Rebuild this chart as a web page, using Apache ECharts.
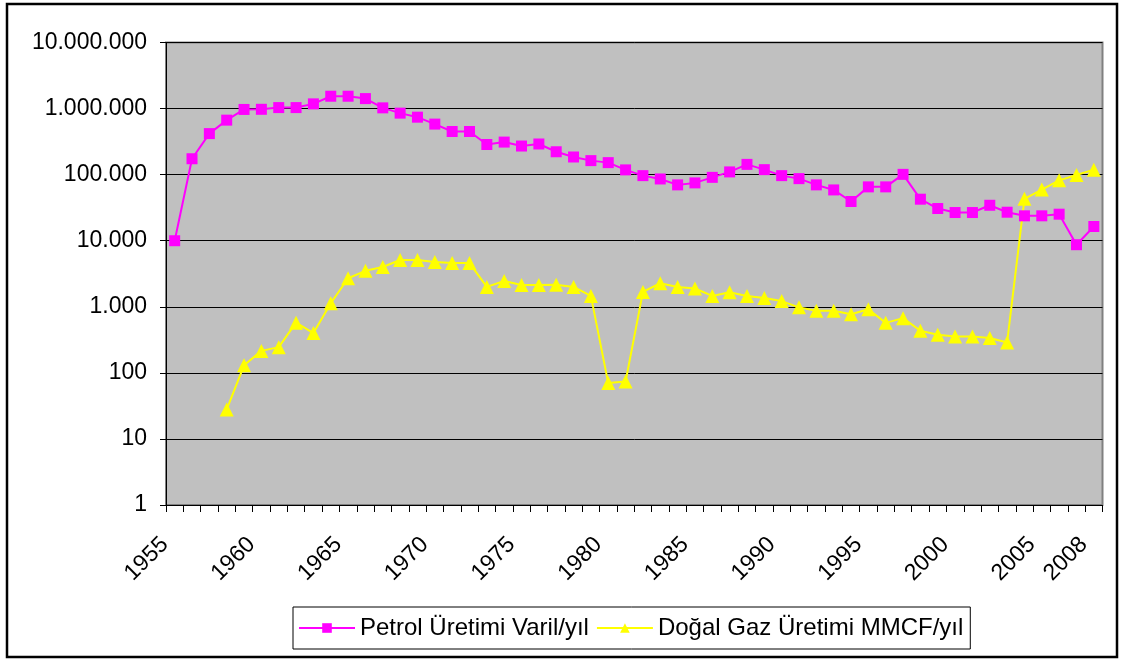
<!DOCTYPE html>
<html>
<head>
<meta charset="utf-8">
<script src="https://cdn.jsdelivr.net/npm/echarts@6/dist/echarts.min.js"></script>
<style>
html,body{margin:0;padding:0;background:#fff;}
#chart{width:1121px;height:659px;}
</style>
</head>
<body>
<div id="chart"></div>
<script>
var years = [];
for (var y = 1955; y <= 2008; y++) years.push(String(y));

var shownYearLabels = ['1955','1960','1965','1970','1975','1980','1985','1990','1995','2000','2005','2008'];

var petrolSeriesName = 'Petrol Üretimi Varil/yıl';
var gasSeriesName = 'Doğal Gaz Üretimi MMCF/yıl';

var petrol = [
  10000, 174000, 418000, 668000, 970000, 975000, 1035000, 1035000, 1178000, 1538000,
  1538000, 1416000, 1025000, 853000, 741000, 582000, 450000, 450000, 286000, 311000,
  271000, 291000, 222000, 185000, 163000, 152000, 118000, 96600, 86000, 70000,
  75000, 91000, 110000, 143000, 119000, 96600, 87000, 70000, 58700, 39200,
  65300, 65300, 101000, 42500, 30700, 26700, 26700, 34400, 27000, 23800,
  23800, 25200, 8700, 16400
];

var gas = [
  null, null, null, 28, 130, 215, 245, 575, 400, 1130,
  2700, 3500, 4000, 5100, 5100, 4750, 4590, 4590, 2000, 2450,
  2140, 2140, 2150, 2000, 1460, 70, 74, 1680, 2270, 2000,
  1890, 1460, 1660, 1460, 1360, 1220, 980, 870, 870, 773,
  920, 571, 673, 434, 377, 356, 356, 336, 289, 43000,
  59400, 82000, 99000, 119000
];

var yTickFormat = function (v) {
  return String(Math.round(v)).replace(/\B(?=(\d{3})+(?!\d))/g, '.');
};

var chart = echarts.init(document.getElementById('chart'), null, {renderer: 'canvas'});
var fontFamily = 'Arial, "Liberation Sans", sans-serif';

chart.setOption({
  animation: false,
  backgroundColor: '#ffffff',
  graphic: [{
    type: 'rect',
    shape: {x: 7, y: 4, width: 1110, height: 653},
    style: {fill: 'none', stroke: '#000', lineWidth: 2.5},
    z: 100
  }],
  grid: {
    left: 166, right: 18.5, top: 42.5, bottom: 154,
    show: true,
    backgroundColor: '#c0c0c0',
    borderColor: '#808080',
    borderWidth: 2
  },
  legend: {
    left: 293,
    top: 607,
    padding: [9, 7, 9, 5],
    borderColor: '#000',
    borderWidth: 1,
    backgroundColor: '#fff',
    itemWidth: 56,
    itemHeight: 12,
    itemGap: 7,
    textStyle: {fontFamily: fontFamily, fontSize: 24, color: '#000'},
    data: [petrolSeriesName, gasSeriesName]
  },
  xAxis: {
    type: 'category',
    data: years,
    boundaryGap: true,
    axisLine: {lineStyle: {color: '#000', width: 1}},
    axisTick: {show: true, interval: 0, length: 7, lineStyle: {color: '#000'}},
    axisLabel: {
      interval: function (i, v) { return shownYearLabels.indexOf(v) >= 0; },
      rotate: 45,
      margin: 26,
      padding: [0, 14, 0, 0],
      color: '#000',
      fontFamily: fontFamily,
      fontSize: 23
    },
    splitLine: {show: false}
  },
  yAxis: {
    type: 'log',
    logBase: 10,
    min: 1,
    max: 10000000,
    axisLine: {show: true, lineStyle: {color: '#000', width: 1}},
    axisTick: {show: true, inside: false, length: 6, lineStyle: {color: '#000'}},
    axisLabel: {
      formatter: yTickFormat,
      margin: 19,
      color: '#000',
      fontFamily: fontFamily,
      fontSize: 23
    },
    splitLine: {show: true, lineStyle: {color: '#000', width: 1}},
    minorTick: {show: false}
  },
  series: [
    {
      name: petrolSeriesName,
      type: 'line',
      data: petrol,
      symbol: 'rect',
      symbolSize: 11,
      showAllSymbol: true,
      lineStyle: {color: '#ff00ff', width: 2},
      itemStyle: {color: '#ff00ff'}
    },
    {
      name: gasSeriesName,
      type: 'line',
      data: gas,
      symbol: 'triangle',
      symbolSize: 14,
      showAllSymbol: true,
      lineStyle: {color: '#ffff00', width: 2},
      itemStyle: {color: '#ffff00'}
    }
  ]
});
</script>
</body>
</html>
